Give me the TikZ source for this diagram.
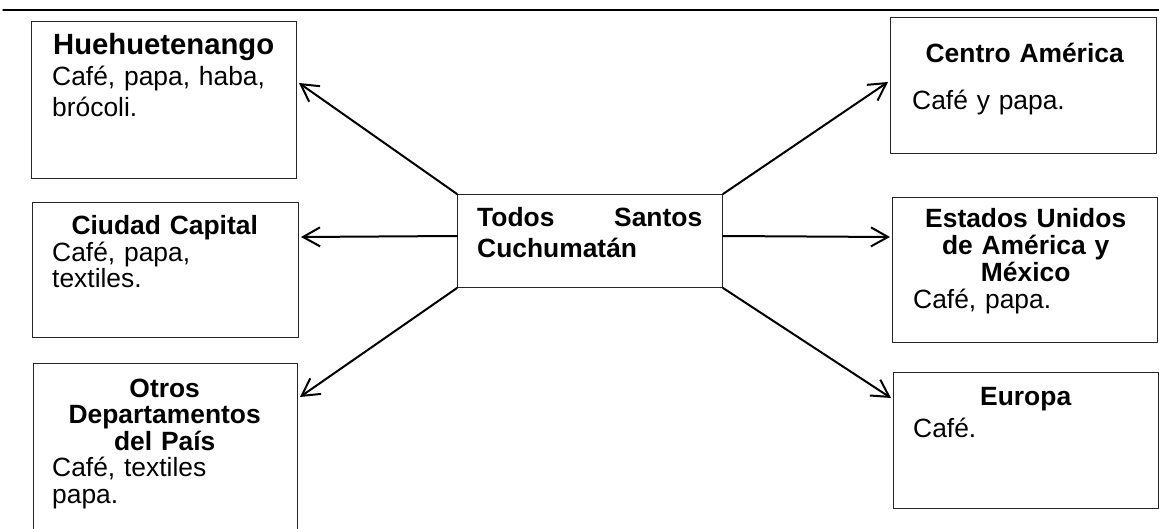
\documentclass[tikz,border=0pt]{standalone}
\usepackage{fontspec}
\setmainfont{Liberation Sans}
\usetikzlibrary{arrows.meta}

\newcommand\boxtitle[1]{{\centering\bfseries #1\par}}

\begin{document}
\begin{tikzpicture}[x=1pt,y=-1pt,line cap=round,line join=round,
    >={Straight Barb[length=17pt,width=19pt]},
    destbox/.style={draw=black!85,line width=1pt,inner sep=0pt,anchor=north west},
    txt/.style={anchor=base west,inner sep=0pt,text width=225pt,align=left,
      font=\fontsize{26.4}{#1}\selectfont},
    flow/.style={->,line width=2pt}]
      \useasboundingbox (0,0) rectangle (1159,529);
      \clip (0,0) rectangle (1159,529);

      % Top rule
      \draw[line width=1.5pt] (3,10) -- (1159,10);

      % Add Boxes
      \node[destbox,minimum width=265pt,minimum height=157pt] (hue) at (31,21) {};
      \node[destbox,minimum width=266pt,minimum height=135pt] (cap) at (32,202) {};
      \node[destbox,minimum width=264pt,minimum height=180pt] (otr) at (33,363) {};
      \node[destbox,minimum width=265pt,minimum height=93pt] (tsc) at (457,194) {};
      \node[destbox,minimum width=266pt,minimum height=136pt] (cam) at (890,17) {};
      \node[destbox,minimum width=265pt,minimum height=145pt] (eua) at (892,197) {};
      \node[destbox,minimum width=265pt,minimum height=136pt] (eur) at (893,372) {};

      % Add Texts
      \node[txt=31,text width=223pt] (hueT) at ([shift={(21,34)}]hue.north west)
        {\boxtitle{\fontsize{29.25}{31}\selectfont Huehuetenango}Café, papa, haba,\\brócoli.};
      \node[txt=26.5] (capT) at ([shift={(20,33)}]cap.north west)
        {\boxtitle{Ciudad Capital}Café, papa,\\textiles.};
      \node[txt=26.5] (otrT) at ([shift={(19,34)}]otr.north west)
        {\boxtitle{Otros\\Departamentos\\del País}Café, textiles\\papa.};
      \node[txt=31,font=\fontsize{26.4}{31}\selectfont\bfseries] (tscT) at ([shift={(20,33)}]tsc.north west)
        {Todos\hfill Santos\\Cuchumatán};
      \node[txt=31] (camT) at ([shift={(22,46)}]cam.north west)
        {\boxtitle{Centro América}\vspace{16pt}Café y papa.};
      \node[txt=27] (euaT) at ([shift={(21,31)}]eua.north west)
        {\boxtitle{Estados Unidos\\de América y\\México}Café, papa.};
      \node[txt=32] (eurT) at ([shift={(20,33)}]eur.north west)
        {\boxtitle{Europa}Café.};

      % Add Arrows
      \draw[flow] (tsc.north west) -- ([shift={(2pt,-62pt)}]hue.north east);
      \draw[flow] ([yshift=-42pt]tsc.north west) -- ([shift={(2pt,-35pt)}]cap.north east);
      \draw[flow] (tsc.south west) -- ([shift={(2pt,-34pt)}]otr.north east);
      \draw[flow] (tsc.north east) -- ([shift={(-2pt,-65pt)}]cam.north west);
      \draw[flow] ([yshift=-42pt]tsc.north east) -- ([shift={(-2pt,-40pt)}]eua.north west);
      \draw[flow] (tsc.south east) -- ([shift={(-2pt,-26pt)}]eur.north west);
    \end{tikzpicture}
\end{document}
